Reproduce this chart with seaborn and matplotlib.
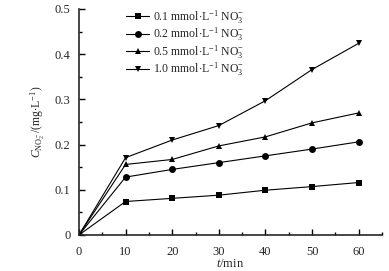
import numpy as np
import pandas as pd
import matplotlib
matplotlib.use("Agg")
import matplotlib.pyplot as plt
import seaborn as sns
from matplotlib.ticker import MultipleLocator

time_min = [0, 10, 20, 30, 40, 50, 60]
c_01 = [0.0, 0.074, 0.081, 0.088, 0.099, 0.107, 0.116]
c_02 = [0.0, 0.128, 0.145, 0.160, 0.175, 0.190, 0.206]
c_05 = [0.0, 0.156, 0.167, 0.197, 0.217, 0.248, 0.270]
c_10 = [0.0, 0.171, 0.210, 0.242, 0.297, 0.366, 0.424]
labels = [r"0.1 mmol$\cdot$L$^{-1}$ NO$_3^{-}$",
          r"0.2 mmol$\cdot$L$^{-1}$ NO$_3^{-}$",
          r"0.5 mmol$\cdot$L$^{-1}$ NO$_3^{-}$",
          r"1.0 mmol$\cdot$L$^{-1}$ NO$_3^{-}$"]

rows = []
for lab, vals in zip(labels, [c_01, c_02, c_05, c_10]):
    for t, v in zip(time_min, vals):
        rows.append({"t": t, "c": v, "series": lab})
df = pd.DataFrame(rows)

sns.set_style("ticks")
plt.rcParams['font.family'] = ['Liberation Serif', 'DejaVu Serif']
plt.rcParams['mathtext.fontset'] = 'custom'
plt.rcParams['mathtext.rm'] = 'Liberation Serif'
plt.rcParams['mathtext.it'] = 'Liberation Serif:italic'

fig = plt.figure(figsize=(3.89, 2.71), dpi=100)
ax = fig.add_axes([0.203, 0.133, 0.779, 0.834])

sns.lineplot(data=df, x="t", y="c", hue="series", style="series",
             palette=["black"] * 4, markers=["s", "o", "^", "v"], dashes=False,
             markersize=5, linewidth=0.8, markeredgewidth=0, ax=ax)

ax.set_xlim(0, 65)
ax.set_ylim(0, 0.5)
ax.xaxis.set_minor_locator(MultipleLocator(5))
ax.yaxis.set_minor_locator(MultipleLocator(0.05))
ax.set_xticks([0, 10, 20, 30, 40, 50, 60])
ax.set_xticklabels(["0", "10", "20", "30", "40", "50", "60"])
ax.set_yticks([0, 0.1, 0.2, 0.3, 0.4, 0.5])
ax.set_yticklabels(["0", "0.1", "0.2", "0.3", "0.4", "0.5"])
ax.tick_params(axis="both", which="both", direction="in", labelsize=9, width=1, color="black")
ax.tick_params(which="major", length=4)
ax.tick_params(which="minor", length=2.5)
ax.tick_params(axis="x", pad=8)
ax.tick_params(axis="y", pad=6)
sns.despine(ax=ax)
for s in ["left", "bottom"]:
    ax.spines[s].set_linewidth(1.2)

ax.set_xlabel(r"$t$/min", fontsize=9, labelpad=0)
ax.set_ylabel(r"$C_{\mathrm{NO}_2^-}$/(mg$\cdot$L$^{-1}$)", fontsize=8.5, labelpad=6)

leg = ax.legend(loc="upper left", bbox_to_anchor=(0.135, 1.03), frameon=False, fontsize=8.5,
                handlelength=2.0, handletextpad=0.3, labelspacing=0.0, borderaxespad=0.1)

fig.savefig("out.png", dpi=100)
